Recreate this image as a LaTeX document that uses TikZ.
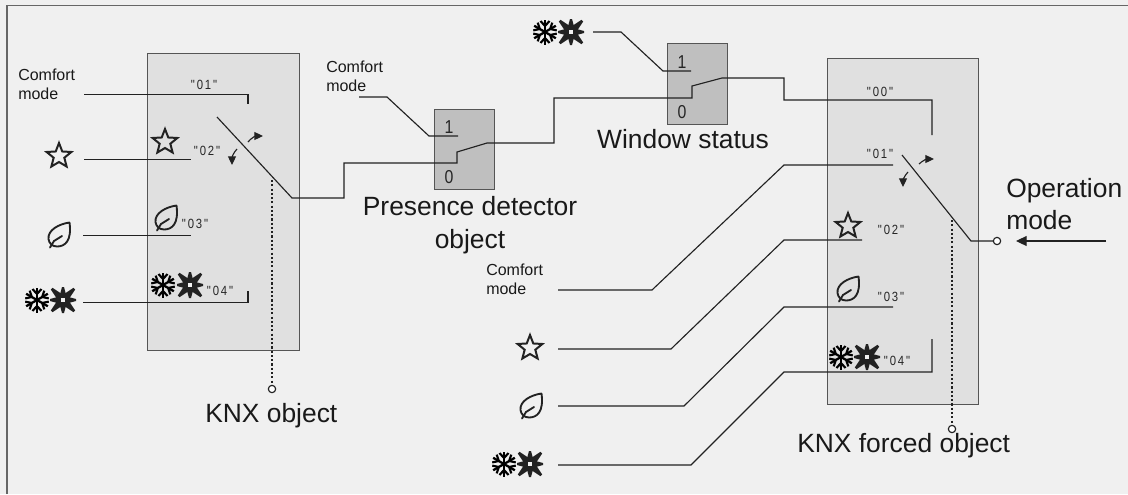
\documentclass[tikz,border=0pt]{standalone}
\usepackage{fontspec}
\setmainfont{Liberation Sans}
\newfontfamily\tagfont[LetterSpace=14,FakeStretch=0.85]{Liberation Sans}
\newfontfamily\digitfont[FakeStretch=0.85]{Liberation Sans}
\usetikzlibrary{arrows.meta}
\definecolor{bgc}{HTML}{F0F0F0}
\definecolor{inkc}{HTML}{222222}
\definecolor{edgec}{HTML}{555555}
\tikzset{
  wire/.style={draw=inkc,line width=0.85pt,line join=miter},
  dots/.style={draw=inkc,line width=0.85pt,dash pattern=on 1.6pt off 1.6pt},
  tip/.style={-{Stealth[length=8pt,width=7.5pt,inset=0pt]},draw=inkc,line width=0.85pt},
  curvetip/.style={-{Stealth[length=6.5pt,width=6pt,inset=0pt]},draw=inkc,line width=0.85pt},
  objbox/.style={draw=edgec,fill=black!12,line width=1.1pt,inner sep=0,anchor=north west},
  selbox/.style={draw=edgec,fill=black!25,line width=1.1pt,inner sep=0,anchor=north west},
  bigl/.style={inner sep=0,text=black!90,font=\fontsize{19.8}{24}\selectfont},
  smalll/.style={inner sep=0,text=black!90,font=\fontsize{12}{14.25}\selectfont,align=left,anchor=base west},
  tagl/.style={inner sep=0,text=black!85,font=\tagfont\fontsize{10}{11}\selectfont},
  digit/.style={inner sep=0,text=black!85,font=\digitfont\fontsize{14}{15}\selectfont},
  endpt/.style={circle,draw=inkc,fill=white,line width=0.85pt,minimum size=5.5pt,inner sep=0},
  starico/.pic={\draw[draw=inkc,line width=1.5pt,line join=miter,yscale=-1]
    (90:13)--(54:5.6)--(18:13)--(-18:5.6)--(-54:13)--(-90:6)--(-126:13)--(-162:5.6)--(162:13)--(126:5.6)--cycle;},
  leafico/.pic={\draw[draw=inkc,line width=1.4pt,line cap=round,line join=round]
    (10.5,-12.5) .. controls (0,-11) and (-11.5,-5) .. (-10.5,4) .. controls (-10,8) and (-7,11.5) .. (-2,11.5)
    .. controls (6,11.5) and (13,6) .. (10.5,-12.5);
    \draw[draw=inkc,line width=1.4pt,line cap=round] (-9,12.5) -- (-5,6) -- (3,1);},
  flakeico/.pic={\foreach \a in {90,150,210,270,330,30}{
     \begin{scope}[rotate=\a]
      \draw[draw=black,line width=1.7pt] (0,0)--(12.5,0);
      \draw[draw=black,line width=1.6pt] (6,0)--(11,4.5) (6,0)--(11,-4.5);
     \end{scope}}},
  sunico/.pic={\foreach \a in {0,90,180,270}{
     \fill[inkc,rotate=\a] (2,-4)--(13,-1)--(13,1)--(2,4)--cycle;}
     \foreach \a in {45,135,225,315}{
     \fill[inkc,rotate=\a] (2,-4)--(16,-1.2)--(16,1.2)--(2,4)--cycle;}
     \fill[bgc] (-2.4,-2.4) rectangle (2.4,2.4);},
}
\begin{document}
\begin{tikzpicture}[x=0.75pt,y=-0.75pt]
\useasboundingbox (0,0) rectangle (1128,494);
\fill[bgc] (0,0) rectangle (1128,494);
\draw[draw=black!60,line width=1.3pt] (7,494) -- (7,5.5) -- (1128,5.5);

% boxes
\node[objbox,minimum width=114pt,minimum height=222.75pt] (objA) at (147,53) {};
\node[objbox,minimum width=113.25pt,minimum height=259.5pt] (objB) at (827,58) {};
\node[selbox,minimum width=45pt,minimum height=60pt] (selA) at (434,109) {};
\node[selbox,minimum width=45pt,minimum height=60.75pt] (selB) at (667,43) {};

% named points
\coordinate (a1) at (84,94.4); \coordinate (a1k) at (248,94.4); \coordinate (a1e) at (248,104);
\coordinate (a2) at (84,159.4); \coordinate (a2e) at (191,159.4);
\coordinate (a3) at (83,235.4); \coordinate (a3e) at (191,235.4);
\coordinate (a4) at (83,302.4); \coordinate (a4k) at (248,302.4); \coordinate (a4e) at (248,291);
\coordinate (swA) at (217,117); \coordinate (swAk) at (292,198);
\coordinate (s1) at (344,198); \coordinate (s2) at (344,163); \coordinate (s3) at (457,163);
\coordinate (s4) at (457,152); \coordinate (s5) at (487,143); \coordinate (s6) at (554,143);
\coordinate (s7) at (554,98); \coordinate (s8) at (692,98); \coordinate (s9) at (692,86);
\coordinate (s10) at (722,78); \coordinate (s11) at (784,78); \coordinate (s12) at (784,100);
\coordinate (s13) at (932,100); \coordinate (s14) at (932,135);
\coordinate (c1) at (359,97); \coordinate (c2) at (387,97); \coordinate (c3) at (429,136); \coordinate (c4) at (458,136);
\coordinate (d1) at (593,32); \coordinate (d2) at (621,32); \coordinate (d3) at (663,71); \coordinate (d4) at (691,71);
\coordinate (e1) at (558,290); \coordinate (e2) at (652,290); \coordinate (e3) at (784,165); \coordinate (e4) at (893,165);
\coordinate (f1) at (558,349); \coordinate (f2) at (671,349); \coordinate (f3) at (784,240); \coordinate (f4) at (862,240);
\coordinate (g1) at (558,406); \coordinate (g2) at (684,406); \coordinate (g3) at (784,307); \coordinate (g4) at (893,307);
\coordinate (h1) at (558,465); \coordinate (h2) at (691,465); \coordinate (h3) at (784,372); \coordinate (h4) at (932,372); \coordinate (h5) at (932,339);
\coordinate (swB) at (902,155); \coordinate (swBk) at (971,241);
\node[endpt] (outB) at (997,241) {};
\node[endpt] (koA) at (272,389) {};
\node[endpt] (koB) at (952,429) {};
\coordinate (opS) at (1106,241); \coordinate (opE) at (1016,241);
\coordinate (dA) at (272,180); \coordinate (dB) at (952,220);

% wires
\draw[wire] (a1) -- (a1k) -- (a1e);
\draw[wire] (a2) -- (a2e);
\draw[wire] (a3) -- (a3e);
\draw[wire] (a4) -- (a4k) -- (a4e);
\draw[wire] (swA) -- (swAk) -- (s1) -- (s2) -- (s3) -- (s4) -- (s5) -- (s6) -- (s7) -- (s8) -- (s9) -- (s10) -- (s11) -- (s12) -- (s13) -- (s14);
\draw[wire] (c1) -- (c2) -- (c3) -- (c4);
\draw[wire] (d1) -- (d2) -- (d3) -- (d4);
\draw[wire] (e1) -- (e2) -- (e3) -- (e4);
\draw[wire] (f1) -- (f2) -- (f3) -- (f4);
\draw[wire] (g1) -- (g2) -- (g3) -- (g4);
\draw[wire] (h1) -- (h2) -- (h3) -- (h4) -- (h5);
\draw[wire] (swB) -- (swBk) -- (outB);
\draw[tip] (opS) -- (opE);
\draw[dots] (dA) -- (koA);
\draw[dots] (dB) -- (koB);

% rotary arrows
\draw[curvetip] (248,142) .. controls (251,138) and (256,136) .. (263,136);
\draw[curvetip] (237,149) .. controls (233,153) and (232,158) .. (232,165);
\draw[curvetip] (919,164) .. controls (922,161) and (927,159) .. (934,159);
\draw[curvetip] (908,172) .. controls (904,176) and (903,181) .. (903,187);

% icons
\foreach \p in {(59,156),(165,142),(848,226),(530,348)} \pic at \p {starico};
\foreach \p in {(59,235),(166,218),(848,289),(531,406)} \pic at \p {leafico};
\foreach \p in {(37,300),(163,285),(545,32),(841,357),(504,464)} \pic at \p {flakeico};
\foreach \p in {(63,300),(190,285),(571,32),(867,357),(530,464)} \pic at \p {sunico};

% labels
\node[tagl] (t01a) at (204,85) {"01"};
\node[tagl] (t02a) at (207,151) {"02"};
\node[tagl] (t03a) at (195,224) {"03"};
\node[tagl] (t04a) at (220,291) {"04"};
\node[tagl] (t00b) at (880,92) {"00"};
\node[tagl] (t01b) at (880,154) {"01"};
\node[tagl] (t02b) at (891,230) {"02"};
\node[tagl] (t03b) at (891,297) {"03"};
\node[tagl] (t04b) at (897,361) {"04"};
\node[digit] (n1a) at (449,127) {1};
\node[digit] (n0a) at (449,177) {0};
\node[digit] (n1b) at (682,62) {1};
\node[digit] (n0b) at (682,112) {0};
\node[smalll] (cmA) at (18,99) {Comfort\\mode};
\node[smalll] (cmB) at (326,91) {Comfort\\mode};
\node[smalll] (cmC) at (486,294) {Comfort\\mode};
\node[bigl,align=center,anchor=base] (lblP) at (470,248) {Presence detector\\[0.75pt]object};
\node[bigl,anchor=base] (lblW) at (683,148) {Window status};
\node[bigl,anchor=base west] (lblKA) at (205,422) {KNX object};
\node[bigl,anchor=base west] (lblKB) at (797,452) {KNX forced object};
\node[bigl,align=left,anchor=base west] (lblO) at (1006,229) {Operation\\mode};
\end{tikzpicture}
\end{document}
